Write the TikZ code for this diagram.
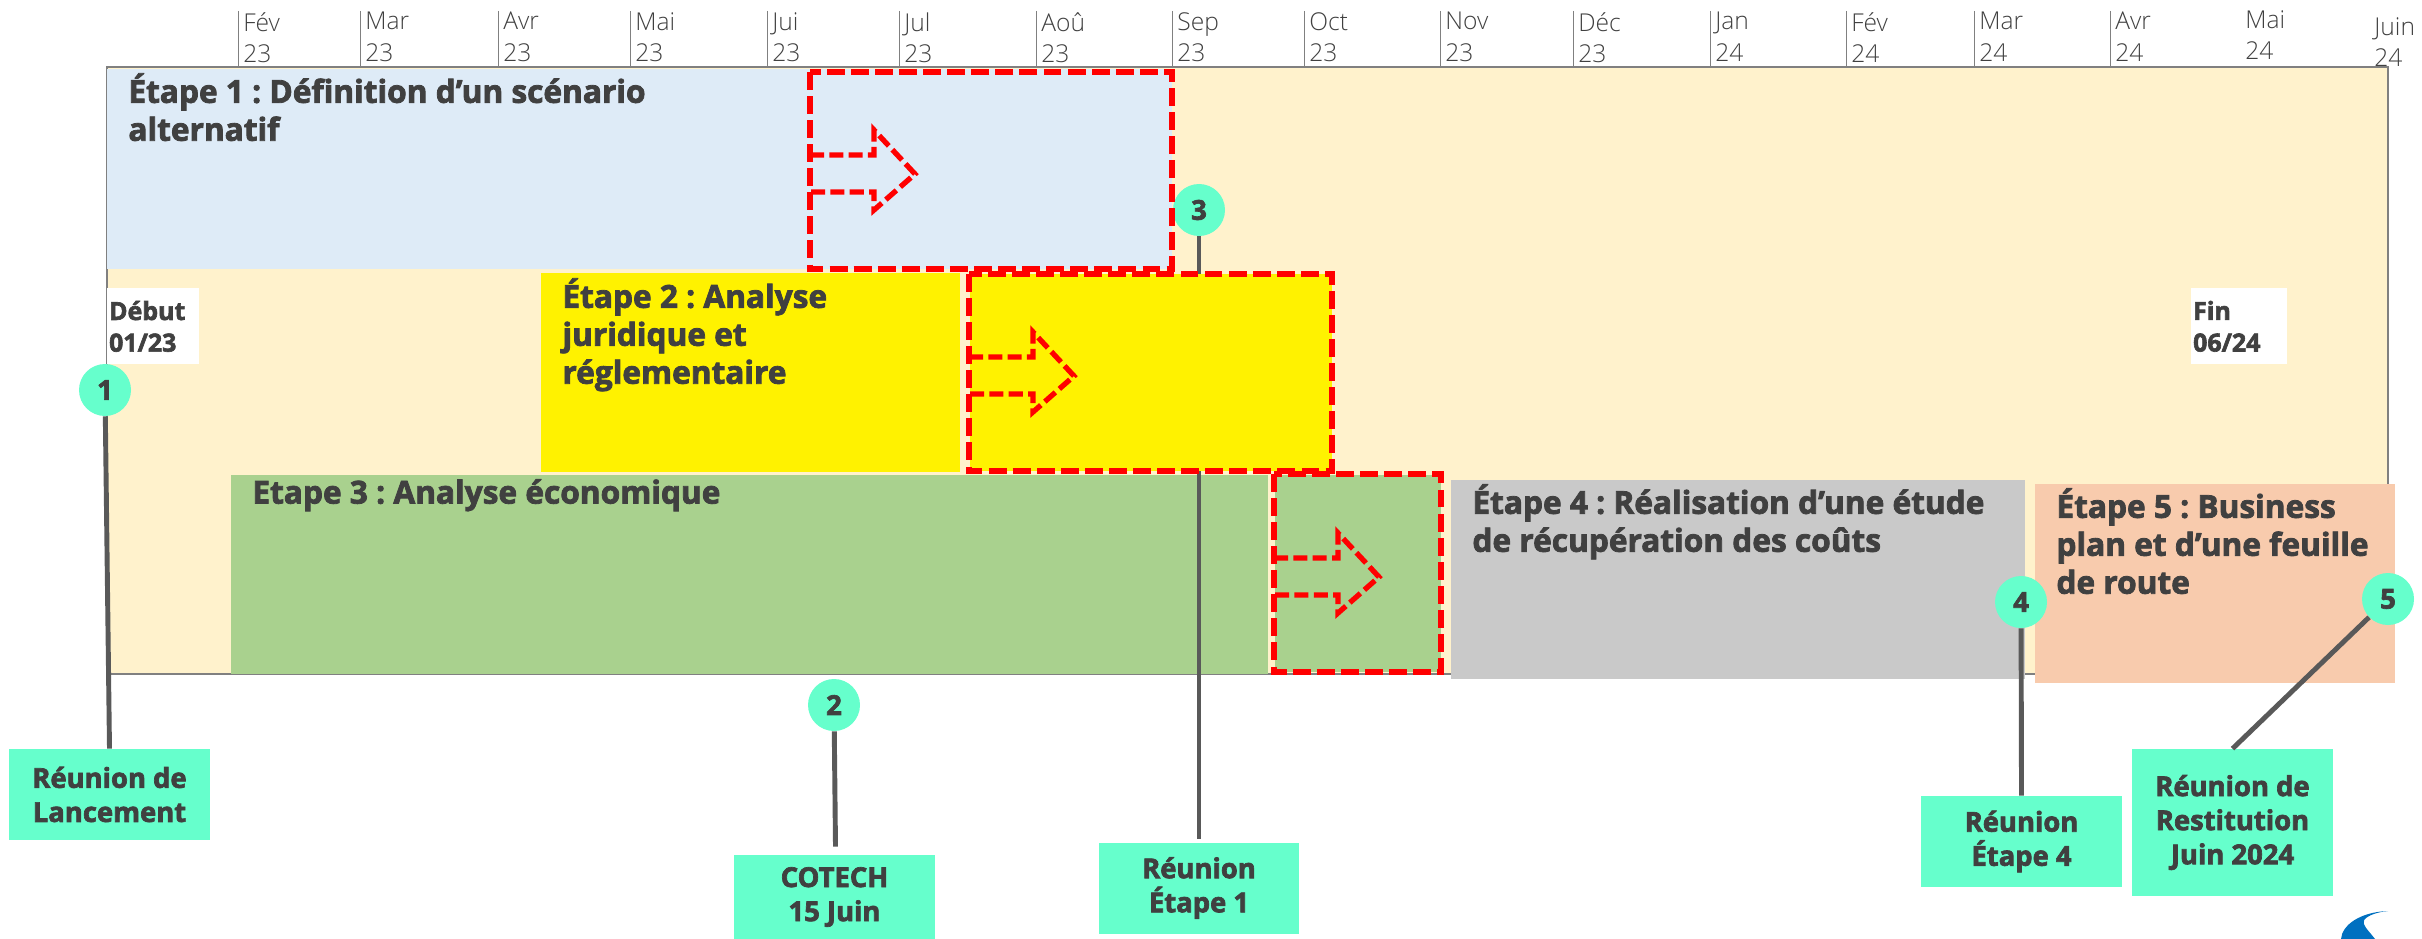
\documentclass[tikz,border=0pt]{standalone}
\usepackage{fontspec}
\usepackage{xcolor}
\usetikzlibrary{positioning,calc}
\setmainfont{Open Sans}
\newfontfamily\monthfont{Open Sans Light}
\newfontfamily\heavyfont[RawFeature={embolden=2.5}]{Open Sans Bold}
\frenchspacing
\definecolor{creamfill}{HTML}{FFF2CC}
\definecolor{stageblue}{HTML}{DEEBF7}
\definecolor{stageyellow}{HTML}{FFF200}
\definecolor{stagegreen}{HTML}{A9D18E}
\definecolor{stagegrey}{HTML}{C9C9C9}
\definecolor{stagepeach}{HTML}{F8CBAD}
\definecolor{meetteal}{HTML}{66FFCC}
\definecolor{inkgrey}{HTML}{404040}
\definecolor{linkgrey}{HTML}{595959}
\definecolor{logoblue}{HTML}{0070C0}
\tikzset{
  stagebox/.style={anchor=north west,align=left,inner xsep=12pt,
                   inner ysep=0pt,text=inkgrey,font=\fontsize{18}{21.6}\heavyfont},
  meetbox/.style={fill=meetteal,align=center,inner sep=0pt,text=inkgrey,
                  font=\fontsize{15.6}{19.4}\heavyfont},
  dot/.style={circle,fill=meetteal,minimum size=52*0.5692pt,inner sep=0pt,
              text=inkgrey,font=\fontsize{15.6}{16}\heavyfont},
  endbox/.style={fill=white,anchor=north west,inner sep=0pt,text=inkgrey,
                 minimum height=76*0.5692pt,font=\fontsize{14.2}{18}\heavyfont},
  link/.style={draw=linkgrey,line width=2.8pt},
  month/.style={anchor=north west,align=left,inner sep=0pt,text=inkgrey,
                font=\fontsize{14}{17.8}\monthfont},
  tick/.style={draw=gray,line width=0.5pt},
  slip/.style={draw=red,line width=3.2pt,dash pattern=on 10.2pt off 3.5pt},
  sliparrow/.style={draw=red,line width=3pt,dash pattern=on 8pt off 3pt},
}
\begin{document}
\begin{tikzpicture}[x=0.02cm,y=-0.02cm]
  \useasboundingbox (0,0) rectangle (2422,939);
  % Background frame of the whole calendar
  \path[fill=creamfill,draw=gray,line width=0.7pt] (107,67) rectangle (2388,674);
  % Months on top
  \foreach \px/\mon/\yr in {238/Fév/23,360/Mar/23,498/Avr/23,630/Mai/23,767/Jui/23,
      899/Jul/23,1036/Aoû/23,1172/Sep/23,1304/Oct/23,1440/Nov/23,1573/Déc/23,
      1710/Jan/24,1846/Fév/24,1974/Mar/24,2110/Avr/24}{
    \draw[tick] (\px,11) -- (\px,67);
    \node[month] at (\px+5,12) {\mon\\\yr};
  }
  \node[month] (mai) at (2245,10) {Mai\\24};
  \node[month] (juin) at (2374,17) {Juin\\24};
  % Stages
  \fill[stageblue] (107,69) rectangle (1172,269);
  \node[stagebox] (etape1) at (107,73)
       {Étape 1 : Définition d’un scénario\\alternatif};
  \fill[stagegreen] (231,475) rectangle (1268,674);
  \fill[stagegreen] (1275,475) rectangle (1441,672);
  \node[stagebox] (etape3) at (231,479) {Etape 3 : Analyse économique};
  % Meeting 3 passes behind the yellow stage
  \node[dot] (n3) at (1199,210) {3};
  \node[meetbox,minimum width=200*0.5692pt,minimum height=91*0.5692pt] (m3) at (1199,888)
       {Réunion\\Étape 1};
  \draw[link] (n3) -- ($(m3.north)+(0,-3)$);
  \fill[stageyellow] (541,273) rectangle (960,472);
  \fill[stageyellow] (970,274) rectangle (1332,471);
  \node[stagebox] (etape2) at (541,278) {Étape 2 : Analyse\\juridique et\\réglementaire};
  \fill[stagegrey] (1451,480) rectangle (2025,679);
  \node[stagebox] (etape4) at (1451,484) {Étape 4 : Réalisation d’une étude\\de récupération des coûts};
  \fill[stagepeach] (2035,484) rectangle (2395,683);
  \node[stagebox] (etape5) at (2035,488) {Étape 5 : Business\\plan et d’une feuille\\de route};
  % Slipped periods
  \draw[slip] (810,72) rectangle (1172,269);
  \draw[slip] (969,274) rectangle (1332,471);
  \draw[slip] (1274,474) rectangle (1441,672);
  \foreach \dx/\dy in {0/0,159/202,464/403}{
    \draw[sliparrow,shift={(\dx,\dy)}] (810,155) -- (874,155) -- (874,130) -- (915,174)
      -- (874,210) -- (874,192) -- (810,192);
  }
  % Start and end
  \node[endbox,text width=92*0.5692pt,align=left] (debut) at (107,288) {\hspace{1pt}Début\\\hspace{1pt}01/23};
  \node[endbox,text width=96*0.5692pt,align=left] (fin) at (2191,288) {\hspace{1pt}Fin\\\hspace{1pt}06/24};
  % Meetings
  \node[dot] (n1) at (105,390) {1};
  \node[meetbox,minimum width=201*0.5692pt,minimum height=91*0.5692pt] (m1) at (109.5,794.5)
       {Réunion de\\Lancement};
  \draw[link] (n1) -- (m1.north);
  \node[dot] (n2) at (834,705) {2};
  \node[meetbox,minimum width=201*0.5692pt,minimum height=84*0.5692pt] (m2) at (834.5,897)
       {COTECH\\15 Juin};
  \draw[link] (n2) -- ($(m2.north)+(1,-8)$);
  \node[dot] (n4) at (2021,602) {4};
  \node[meetbox,minimum width=201*0.5692pt,minimum height=91*0.5692pt] (m4) at (2021.5,841.5)
       {Réunion\\Étape 4};
  \draw[link] (n4) -- (m4.north);
  \node[dot] (n5) at (2388,599) {5};
  \node[meetbox,minimum width=201*0.5692pt,minimum height=147*0.5692pt] (m5) at (2232.5,822.5)
       {Réunion de\\Restitution\\Juin 2024};
  \draw[link] (n5) -- (m5.north);
  % Corner of the logo, cut by the page edge
  \fill[logoblue] (2388,911) .. controls (2360,912) and (2342,925) .. (2341,939)
    -- (2375,939) .. controls (2368,930) and (2362,925) .. (2364,920)
    .. controls (2368,915) and (2378,912) .. (2388,911) -- cycle;
\end{tikzpicture}
\end{document}
